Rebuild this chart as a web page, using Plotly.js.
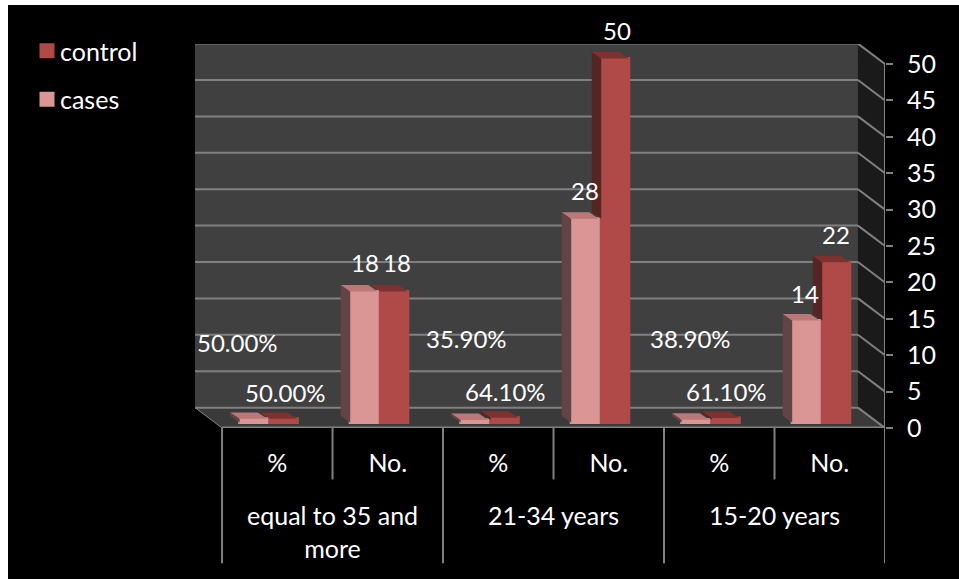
<!DOCTYPE html>
<html>
<head>
<meta charset="utf-8">
<script src="https://cdn.plot.ly/plotly-3.0.1.min.js"></script>
<style>
html,body{margin:0;padding:0;background:#fff;}
#frame{position:absolute;left:8px;top:5px;right:0;bottom:0;background:#000;}
#chart{position:absolute;left:0;top:0;width:959px;height:579px;}
</style>
</head>
<body>
<div id="frame"></div>
<div id="chart"></div>
<script>
// Maternal age groups, each split into a count and a share
const subLabels = ["%", "No.", "%", "No.", "%", "No."];
const groupLabels = ["equal to 35 and<br>more", "21-34 years", "15-20 years"];
const cases = [0.5, 18, 0.359, 28, 0.389, 14];
const control = [0.5, 18, 0.641, 50, 0.611, 22];
const casesText = ["50.00%", "18", "35.90%", "28", "38.90%", "14"];
const controlText = ["50.00%", "18", "64.10%", "50", "61.10%", "22"];
const yTicks = [0, 5, 10, 15, 20, 25, 30, 35, 40, 45, 50];

// label nudges in pixels from the top of each bar
const casesNudge = [[-40, 82], [-23, 34], [-31.5, 87], [-24, 34], [-29, 87], [-24.5, 33]];
const controlNudge = [[8, 32], [9, 34], [7.5, 32], [8, 33], [7, 32], [6.5, 33]];

const FONT = "Lato, sans-serif";
const FONT_SIZE = 25;
const LABEL_SIZE = 24;
const INK = "#ffffff";
const GREY = "#808080";
const PINK = "#d99694", PINK_SIDE = "#634444", PINK_TOP = "#bb7876";
const RED = "#b04a48", RED_SIDE = "#552523", RED_TOP = "#7d3230";

// Scene depth and bar offsets, in axis units
const wallDX = -27 / 110.33, wallDY = 20.4 / 7.29;
const barDX = -9.5 / 110.33, barDY = 6.5 / 7.29;
const barBase = 5.5 / 7.29;
const barW = 27.5 / 110.33;
const casesOff = -0.34, controlOff = -0.068;

const xMin = -0.5, xMax = 5.5;
const yTop = 50;

// Stacked polygons for one face kind; nulls break the fill between bars
function faces(xs, build) {
  const px = [], py = [];
  xs.forEach((_, i) => {
    build(i).forEach(p => { px.push(p[0]); py.push(p[1]); });
    px.push(null); py.push(null);
  });
  return {x: px, y: py};
}
const topFace = (off, vals) => i => {
  const x0 = i + off, y0 = vals[i] + barBase;
  return [[x0, y0], [x0 + barW, y0], [x0 + barW + barDX, y0 + barDY], [x0 + barDX, y0 + barDY], [x0, y0]];
};
const sideFace = (off, vals, floorVals) => i => {
  const x0 = i + off, hi = vals[i] + barBase, lo = (floorVals ? floorVals[i] : 0) + barBase;
  return [[x0, lo], [x0, hi], [x0 + barDX, hi + barDY], [x0 + barDX, lo + barDY], [x0, lo]];
};
function poly(f, color, name) {
  return {type: "scatter", mode: "lines", x: f.x, y: f.y, fill: "toself", fillcolor: color,
    line: {width: 0, color: color}, showlegend: false, hoverinfo: "skip", name: name};
}

const positions = subLabels.map((_, i) => i);
const traces = [
  {type: "bar", name: "cases", x: positions, y: cases, base: barBase, width: barW, offset: casesOff,
    marker: {color: PINK, line: {color: PINK, width: 3}}, legendgroup: "b", legendrank: 2, hoverinfo: "skip"},
  {type: "bar", name: "control", x: positions, y: control, base: barBase, width: barW, offset: controlOff,
    marker: {color: RED, line: {color: RED, width: 3}}, legendgroup: "a", legendrank: 1, hoverinfo: "skip"},
  poly(faces(positions, sideFace(controlOff, control, cases)), RED_SIDE, "control side"),
  poly(faces(positions, topFace(controlOff, control)), RED_TOP, "control top"),
  poly(faces(positions, sideFace(casesOff, cases)), PINK_SIDE, "cases side"),
  poly(faces(positions, topFace(casesOff, cases)), PINK_TOP, "cases top")
];

// Back wall, floor, right wall and their grid lines
const shapes = [];
const rect = (pts, fill) => shapes.push({type: "path", layer: "below", xref: "x", yref: "y",
  path: "M" + pts.map(p => p.join(",")).join("L") + "Z", fillcolor: fill, line: {width: 0}});
const seg = (x0, y0, x1, y1, w) => shapes.push({type: "line", layer: "below", xref: "x", yref: "y",
  x0, y0, x1, y1, line: {color: GREY, width: w || 2}});

rect([[xMin + wallDX, wallDY], [xMax + wallDX, wallDY], [xMax + wallDX, yTop + wallDY], [xMin + wallDX, yTop + wallDY]], "#404040");
rect([[xMax + wallDX, wallDY], [xMax, 0], [xMax, yTop], [xMax + wallDX, yTop + wallDY]], "#1a1a1a");
rect([[xMin, 0], [xMax, 0], [xMax + wallDX, wallDY], [xMin + wallDX, wallDY]], "#3a3a3a");
yTicks.forEach(v => {
  seg(xMin + wallDX, v + wallDY, xMax + wallDX, v + wallDY);
  seg(xMax + wallDX, v + wallDY, xMax, v);
});
seg(xMin, 0, xMin + wallDX, wallDY, 1);
seg(xMax, 0, xMax, yTop);
seg(xMin, 0, xMax, 0, 3);

// Category dividers hanging below the axis: short between pairs, long between groups
const paperY = px => -(px - 428.5) / 384.5;
for (let i = 0; i <= 6; i++) {
  shapes.push({type: "line", xref: "x", yref: "paper", x0: xMin + i, x1: xMin + i,
    y0: 0, y1: paperY(i % 2 === 0 ? 564 : 480), line: {color: GREY, width: 2}});
}

const annotations = [];
const label = (x, y, text, n) => annotations.push({x, y, text, xref: "x", yref: "y", showarrow: false,
  xshift: n[0], yshift: n[1], font: {family: FONT, size: LABEL_SIZE, color: INK}});
positions.forEach(i => {
  label(i, cases[i], casesText[i], casesNudge[i]);
  label(i, control[i], controlText[i], controlNudge[i]);
});
groupLabels.forEach((t, g) => annotations.push({x: 2 * g + 0.5, y: paperY(499), yanchor: "top", xref: "x", yref: "paper",
  text: t, showarrow: false, font: {family: FONT, size: FONT_SIZE, color: INK}}));

const layout = {
  width: 959, height: 579,
  margin: {l: 195, r: 74, t: 44, b: 150.5, pad: 0},
  paper_bgcolor: "rgba(0,0,0,0)", plot_bgcolor: "rgba(0,0,0,0)",
  showlegend: true, barmode: "overlay",
  font: {family: FONT, size: FONT_SIZE, color: INK},
  xaxis: {type: "linear", range: [xMin + wallDX, xMax], tickmode: "array", tickvals: positions, ticktext: subLabels,
    showgrid: false, zeroline: false, showline: false, ticks: "", ticklabelstandoff: 18,
    tickfont: {family: FONT, size: FONT_SIZE, color: INK}},
  yaxis: {side: "right", range: [0, (428.5 - 44) / 7.29], tickmode: "array", tickvals: yTicks,
    showgrid: false, zeroline: false, showline: false, ticks: "outside", ticklen: 7, tickwidth: 2, tickcolor: GREY,
    ticklabelstandoff: 9, tickfont: {family: FONT, size: FONT_SIZE, color: INK}},
  legend: {x: 20 / 959, xref: "container", y: 1 - 28 / 579, yref: "container", yanchor: "top", xanchor: "left",
    traceorder: "grouped", tracegroupgap: 13, itemwidth: 30, bgcolor: "rgba(0,0,0,0)",
    font: {family: FONT, size: FONT_SIZE, color: INK}, itemclick: false, itemdoubleclick: false},
  shapes, annotations
};
Plotly.newPlot("chart", traces, layout, {displayModeBar: false, staticPlot: true}).then(() => {
  // pull the legend swatches closer to their text
  document.querySelectorAll("#chart .legendsymbols").forEach(g => g.setAttribute("transform", "translate(7,0)"));
});
</script>
</body>
</html>
